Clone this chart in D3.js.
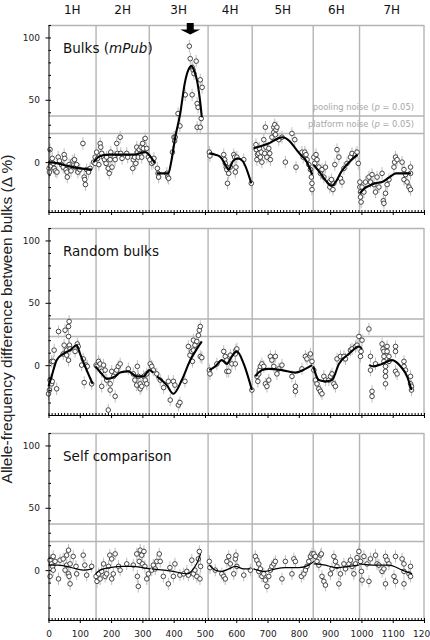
<!DOCTYPE html>
<html>
<head>
<meta charset="utf-8">
<script src="https://cdn.jsdelivr.net/npm/d3@7"></script>
<style>
body { margin: 0; background: #fff; }
svg { display: block; }
</style>
</head>
<body>
<div id="chart"></div>
<script>
var width = 430, height = 640;

// chromosome layout (cumulative position)
var chromNames = ["1H", "2H", "3H", "4H", "5H", "6H", "7H"];
var chromBounds = [0, 152, 322, 510, 651, 846, 994, 1200];
var xTickValues = [0, 100, 200, 300, 400, 500, 600, 700, 800, 900, 1000, 1100, 1200];
var yTickValues = [0, 50, 100];
var poolingNoise = 37;
var platformNoise = 23;
var peakPos = 453;

// Bulks (mPub): [position, difference]
var bulksPoints = [
  [2,-5],[3,-8],[5,10],[6,-3],[8,0],[12,3],[15,-1],[18,-5],[22,-7],[27,-8],[31,4],[35,1],[42,-2],[47,-4],[50,6],
  [52,3],[56,-6],[59,-8],[60,-12],[66,-2],[69,-4],[72,-7],[78,1],[83,2],[86,-4],[90,-2],[94,-8],[100,-6],[110,15],
  [114,-12],[116,-14],[118,-18],[122,-6],[128,-8],[133,-5],
  [144,0],[149,4],[149,-1],[154,8],[157,3],[161,-2],[165,15],[167,12],[170,7],[176,4],[179,2],[184,-1],[186,4],
  [191,-5],[194,-9],[197,2],[199,8],[203,-4],[210,4],[213,2],[218,15],[220,7],[229,20],[231,7],[235,3],[250,7],
  [253,4],[269,-5],[271,2],[275,4],[279,-1],[282,12],[284,8],[287,4],[290,10],[293,7],[296,12],[298,4],[301,15],
  [303,11],[309,19],[314,11],[319,4],[324,2],[330,-1],[335,0],[337,3],
  [348,-5],[350,-9],[352,-12],[378,-9],[381,-12],[384,-13],[396,8],[401,20],[403,17],[405,20],[414,39],[420,29],
  [437,54],[450,93],[453,83],[459,76],[459,54],[462,74],[465,71],[472,81],[475,47],[475,28],[478,44],[485,66],
  [485,28],[488,35],[491,60],
  [514,8],[516,5],[560,6],[563,2],[565,-1],[568,-4],[570,-6],[572,-17],[576,-9],[581,-4],[592,6],[595,4],[597,-8],
  [599,-4],[602,4],[624,2],[648,-17],
  [663,14],[664,10],[666,2],[668,6],[672,7],[674,11],[677,4],[680,8],[682,0],[688,18],[691,7],[693,28],[695,12],
  [698,4],[704,11],[707,7],[709,2],[714,20],[720,28],[720,24],[723,30],[725,22],[727,26],[730,28],[736,18],[746,20],
  [757,0],[778,23],[787,18],[791,-4],[810,8],[814,4],[819,8],[823,6],[826,2],[832,-2],[837,-6],[840,-12],[842,-17],
  [842,-22],
  [848,4],[851,-1],[855,6],[858,2],[864,-4],[869,-9],[874,-6],[880,-12],[885,-4],[896,-16],[899,-20],[904,-14],
  [909,-22],[912,-17],[915,-2],[922,10],[928,4],[933,-13],[938,-16],[944,-5],[954,-1],[965,4],[970,7],[981,6],
  [986,8],[990,-1],
  [995,-16],[995,-20],[997,-24],[997,-28],[999,-32],[1002,-20],[1008,-24],[1013,-16],[1024,-12],[1029,-16],
  [1034,-10],[1040,-18],[1045,-24],[1050,-12],[1056,-20],[1066,-9],[1070,-31],[1072,-33],[1077,-25],[1082,-18],
  [1088,-14],[1104,-4],[1106,0],[1109,4],[1114,2],[1130,0],[1136,-6],[1136,-14],[1141,-10],[1146,-16],[1152,-20],
  [1157,-4],[1157,-9],[1157,-22]
];
var bulksLines = [
  [[0,0],[30,-1],[60,-3],[100,-5],[139,-6]],
  [[144,0],[165,5],[197,6],[271,6],[309,8],[330,3],[340,-1]],
  [[346,-9],[383,-9],[392,0],[405,20],[421,39],[436,64],[447,74],[457,77],[466,73],[475,65],[484,50],[490,36]],
  [[514,7],[533,6],[550,4],[565,-2],[575,-6],[590,1],[605,3],[620,1],[648,-17]],
  [[655,11],[680,13],[703,15],[725,18],[747,20],[770,17],[789,11],[805,6],[821,2],[835,-5],[843,-10]],
  [[846,-2],[860,-6],[875,-11],[890,-16],[905,-19],[920,-15],[935,-8],[950,-3],[965,1],[987,6]],
  [[995,-25],[1010,-21],[1025,-19],[1045,-17],[1066,-16],[1090,-12],[1110,-9],[1135,-9],[1158,-9]]
];

// Random bulks
var randomPoints = [
  [0,-23],[3,-20],[5,-12],[10,-15],[12,-13],[10,3],[15,3],[18,12],[26,-19],[32,27],[47,9],[50,16],[53,28],[58,8],
  [58,12],[64,23],[64,31],[66,35],[64,4],[67,16],[69,13],[85,11],[92,17],[95,15],[106,0],[111,5],[114,-14],[120,0],
  [124,-1],[138,-15],
  [152,0],[155,-1],[160,3],[165,1],[170,-5],[170,-17],[176,0],[181,-4],[186,-12],[191,-36],[197,-15],[197,-20],
  [202,-5],[208,-9],[213,-25],[218,-4],[223,-1],[229,1],[255,-3],[271,-7],[276,-12],[282,-16],[284,-1],[287,-9],
  [293,-15],[293,-19],[298,-17],[304,-9],[309,-12],[314,-15],[314,-7],[325,1],[330,-1],[335,-4],
  [346,-7],[357,-12],[368,-18],[383,-13],[389,-28],[399,-13],[404,-16],[415,-32],[420,-30],[436,-13],[447,15],
  [452,8],[458,11],[460,3],[463,12],[463,20],[468,16],[474,19],[479,24],[482,28],[485,31],[485,7],[490,6],
  [514,-4],[516,-7],[538,1],[560,11],[565,7],[570,4],[570,-5],[576,-5],[581,8],[586,1],[597,9],[599,12],[602,13],
  [597,1],[650,-20],
  [666,-9],[669,-13],[672,-7],[674,-4],[677,-1],[682,1],[688,-1],[693,-15],[698,-17],[704,-12],[709,7],[714,4],
  [720,-1],[725,7],[730,-7],[736,-3],[746,0],[778,-9],[789,-17],[789,-21],[810,-3],[821,7],[826,5],[837,9],[842,3],
  [848,-4],[853,-12],[858,-15],[864,-19],[869,-21],[874,-23],[880,-9],[885,-12],[896,-12],[901,-9],[906,-7],
  [912,-15],[917,-17],[922,5],[933,7],[944,7],[949,5],[965,12],[970,13],[981,15],[986,16],[992,23],[997,7],
  [999,11],[1002,20],
  [1024,29],[1029,7],[1029,-4],[1034,-21],[1034,-25],[1045,1],[1066,17],[1069,13],[1072,11],[1072,7],[1072,3],
  [1077,-1],[1077,-5],[1077,-9],[1077,-15],[1082,15],[1082,11],[1088,7],[1088,3],[1109,15],[1109,11],[1109,-5],
  [1114,-7],[1136,3],[1136,-1],[1141,-4],[1157,-9],[1157,-15],[1160,-17],[1160,-20]
];
var randomLines = [
  [[0,-17],[10,-9],[26,4],[47,9],[69,12],[90,16],[101,9],[117,-1],[141,-15]],
  [[150,-1],[170,-7],[186,-11],[213,-9],[229,-6],[255,-5],[282,-9],[304,-9],[322,-4],[335,-6]],
  [[346,-9],[378,-16],[399,-23],[426,-12],[453,4],[474,13],[490,19]],
  [[514,-4],[533,-1],[554,4],[570,1],[586,7],[602,11],[624,1],[650,-20]],
  [[661,-9],[682,-4],[704,-3],[746,-4],[789,-6],[821,-3],[842,0]],
  [[846,-1],[864,-12],[885,-13],[906,-12],[928,1],[960,9],[992,15],[1002,13]],
  [[1024,0],[1040,-1],[1066,1],[1098,4],[1125,-1],[1146,-9],[1160,-20]]
];

// Self comparison
var selfPoints = [
  [5,8],[5,-5],[10,5],[13,3],[15,11],[15,0],[21,7],[32,-7],[37,8],[47,9],[53,0],[58,12],[58,4],[64,16],[64,-3],
  [66,-5],[69,-11],[69,5],[79,11],[88,3],[90,-3],[111,12],[116,4],[122,-4],[138,3],
  [152,-5],[155,-9],[160,-3],[165,-7],[170,-1],[176,5],[181,-5],[186,-3],[192,3],[196,12],[202,9],[202,-7],
  [207,-3],[213,13],[224,3],[229,0],[250,5],[271,4],[282,13],[284,-5],[287,-13],[290,7],[293,16],[298,12],
  [300,5],[305,15],[308,3],[314,-7],[319,-3],
  [330,0],[335,4],[341,1],[346,7],[354,13],[357,7],[367,-5],[383,-11],[388,2],[399,-5],[404,5],[420,-4],[432,-3],
  [442,-1],[447,-4],[458,8],[463,-3],[468,0],[474,-5],[479,9],[482,15],[484,-7],[486,3],
  [514,7],[516,2],[533,0],[554,-3],[560,-5],[565,-7],[570,7],[576,11],[581,5],[592,-3],[597,9],[599,12],[602,3],
  [624,-4],[645,0],
  [661,11],[666,8],[672,5],[672,-1],[677,1],[682,-5],[688,-3],[693,-8],[698,-13],[704,-5],[709,0],[714,3],[720,5],
  [725,7],[746,-7],[757,7],[778,-3],[784,9],[789,7],[808,-5],[816,-3],[821,0],[826,3],[832,7],[837,11],[842,13],
  [848,13],[853,11],[858,7],[864,4],[869,12],[872,13],[874,-5],[880,-9],[885,-12],[901,-3],[906,1],[912,11],
  [917,7],[922,3],[928,-11],[933,-3],[944,5],[949,1],[960,5],[965,8],[970,3],[976,-3],[981,5],[986,10],
  [992,15],[997,7],[1000,-1],[1002,-8],[1008,11],[1018,5],[1024,-9],[1029,9],[1045,12],[1050,5],[1056,4],
  [1066,-1],[1072,1],[1077,-11],[1077,11],[1082,8],[1088,5],[1104,-5],[1109,11],[1109,-9],[1130,9],[1136,5],
  [1136,-1],[1136,-11],[1152,-3],[1157,-5],[1157,3]
];
var selfLines = [
  [[0,4],[30,4],[58,3],[90,1],[111,0],[140,1]],
  [[150,-3],[165,0],[196,2],[240,3],[271,3],[300,2],[325,1]],
  [[330,1],[399,-1],[442,-3],[463,1],[475,6],[486,13]],
  [[514,4],[533,0],[554,-1],[576,1],[597,3],[624,1],[645,1]],
  [[655,1],[693,-1],[725,1],[757,2],[800,2],[832,4],[848,7]],
  [[848,5],[885,4],[917,2],[960,3],[992,4]],
  [[992,5],[1045,4],[1088,4],[1130,0],[1162,-3]]
];

var panels = [
  {title: [["Bulks (", false], ["mPub", true], [")", false]], points: bulksPoints, lines: bulksLines, lw: 2.1},
  {title: [["Random bulks", false]], points: randomPoints, lines: randomLines, lw: 2.1},
  {title: [["Self comparison", false]], points: selfPoints, lines: selfLines, lw: 1.2}
];

var panelTops = [25, 228, 433];
var panelHeight = 187;
var gridColor = "#b4b4b4";
var errSize = 5;

var svg = d3.select("#chart").append("svg")
  .attr("width", width)
  .attr("height", height)
  .style("font-family", "'DejaVu Sans', Verdana, sans-serif");

var x = d3.scaleLinear().domain([0, 1200]).range([48.5, 424]);
var y = d3.scaleLinear().domain([-40, 110]).range([panelHeight, 0]);

var line = d3.line()
  .x(function(d){ return x(d[0]); })
  .y(function(d){ return y(d[1]); })
  .curve(d3.curveMonotoneX);

panels.forEach(function(p, i)
{
  var g = svg.append("g").attr("transform", "translate(0," + panelTops[i] + ")");

  // border and chromosome separators
  g.append("line")
    .attr("x1", x(0)).attr("x2", x(1200))
    .attr("y1", 0.5).attr("y2", 0.5)
    .attr("stroke", gridColor).attr("stroke-width", 1.4);
  g.selectAll(".sep").data(chromBounds.slice(1))
    .enter().append("line")
    .attr("class", "sep")
    .attr("x1", function(d){ return x(d); })
    .attr("x2", function(d){ return x(d); })
    .attr("y1", 0).attr("y2", panelHeight)
    .attr("stroke", gridColor).attr("stroke-width", 1.4);

  // noise thresholds
  g.selectAll(".noise").data([poolingNoise, platformNoise])
    .enter().append("line")
    .attr("class", "noise")
    .attr("x1", x(0)).attr("x2", x(1200))
    .attr("y1", function(d){ return y(d); })
    .attr("y2", function(d){ return y(d); })
    .attr("stroke", gridColor).attr("stroke-width", 1.4);

  if (i == 0) {
    var noiseLabels = [["pooling noise (", poolingNoise], ["platform noise (", platformNoise]];
    noiseLabels.forEach(function(n){
      var t = g.append("text")
        .attr("x", 414)
        .attr("y", y(n[1]) - 6.5)
        .attr("text-anchor", "end")
        .attr("font-size", "8.4px")
        .attr("fill", "#a8a8a8");
      t.append("tspan").text(n[0]);
      t.append("tspan").attr("font-style", "italic").text("p");
      t.append("tspan").text(" = 0.05)");
    });
  }

  // error bars
  g.selectAll(".err").data(p.points)
    .enter().append("line")
    .attr("class", "err")
    .attr("x1", function(d){ return x(d[0]); })
    .attr("x2", function(d){ return x(d[0]); })
    .attr("y1", function(d){ return y(d[1] - errSize); })
    .attr("y2", function(d){ return y(d[1] + errSize); })
    .attr("stroke", "#bdbdbd").attr("stroke-width", 1);

  g.selectAll(".pt").data(p.points)
    .enter().append("circle")
    .attr("class", "pt")
    .attr("cx", function(d){ return x(d[0]); })
    .attr("cy", function(d){ return y(d[1]); })
    .attr("r", 2.3)
    .attr("fill", "#fff")
    .attr("stroke", "#333")
    .attr("stroke-width", 0.9);

  g.selectAll(".trend").data(p.lines)
    .enter().append("path")
    .attr("class", "trend")
    .attr("d", line)
    .attr("fill", "none")
    .attr("stroke", "#000")
    .attr("stroke-width", p.lw);

  // y axis
  var yAxis = g.append("g")
    .attr("transform", "translate(" + x(0) + ",0)")
    .call(d3.axisLeft(y).tickValues(yTickValues).tickSizeInner(3).tickSizeOuter(0).tickPadding(5.5));
  g.append("g")
    .attr("transform", "translate(" + x(0) + ",0)")
    .call(d3.axisRight(y).tickValues(d3.range(-40, 111, 10)).tickSize(2.5).tickFormat(""))
    .select(".domain").remove();
  yAxis.selectAll("text").attr("font-size", "9px").attr("fill", "#222").attr("font-family", "'DejaVu Sans', sans-serif");

  // x axis
  var xAxis = g.append("g")
    .attr("transform", "translate(0," + panelHeight + ")")
    .call(d3.axisBottom(x).tickValues(xTickValues).tickFormat(d3.format("d"))
      .tickSizeInner(3).tickSizeOuter(0).tickPadding(8));
  g.append("g")
    .attr("transform", "translate(0," + panelHeight + ")")
    .call(d3.axisTop(x).tickValues(d3.range(0, 1201, 10)).tickSize(2).tickFormat(""))
    .select(".domain").remove();
  xAxis.selectAll("text").attr("font-size", "9px").attr("fill", "#222").attr("font-family", "'DejaVu Sans', sans-serif");
  if (i < 2) xAxis.selectAll("text").remove();

  // panel title
  var title = g.append("text")
    .attr("x", 63)
    .attr("y", 27.5)
    .attr("font-size", "13.5px")
    .attr("fill", "#111");
  p.title.forEach(function(part){
    title.append("tspan").attr("font-style", part[1] ? "italic" : "normal").text(part[0]);
  });
});

// chromosome names on top
svg.selectAll(".chrom").data(chromNames)
  .enter().append("text")
  .attr("class", "chrom")
  .attr("x", function(d, i){ return x((chromBounds[i] + chromBounds[i + 1]) / 2); })
  .attr("y", 13.5)
  .attr("text-anchor", "middle")
  .attr("font-size", "12px")
  .attr("fill", "#111")
  .text(function(d){ return d; });

// arrow marking the peak on 3H
var ax = x(peakPos);
svg.append("path")
  .attr("d", "M" + (ax - 3.5) + ",23 L" + (ax + 3.5) + ",23 L" + (ax + 3.5) + ",29.5 L" + (ax + 10) + ",29.5 L" + ax + ",34.5 L" + (ax - 10) + ",29.5 L" + (ax - 3.5) + ",29.5 Z")
  .attr("fill", "#000");

// y axis title
svg.append("text")
  .attr("transform", "translate(11.5,319) rotate(-90)")
  .attr("text-anchor", "middle")
  .attr("font-family", "'Liberation Sans', Arial, sans-serif")
  .attr("font-size", "15.5px")
  .attr("fill", "#222")
  .text("Allele-frequency difference between bulks (\u0394 %)");
</script>
</body>
</html>
